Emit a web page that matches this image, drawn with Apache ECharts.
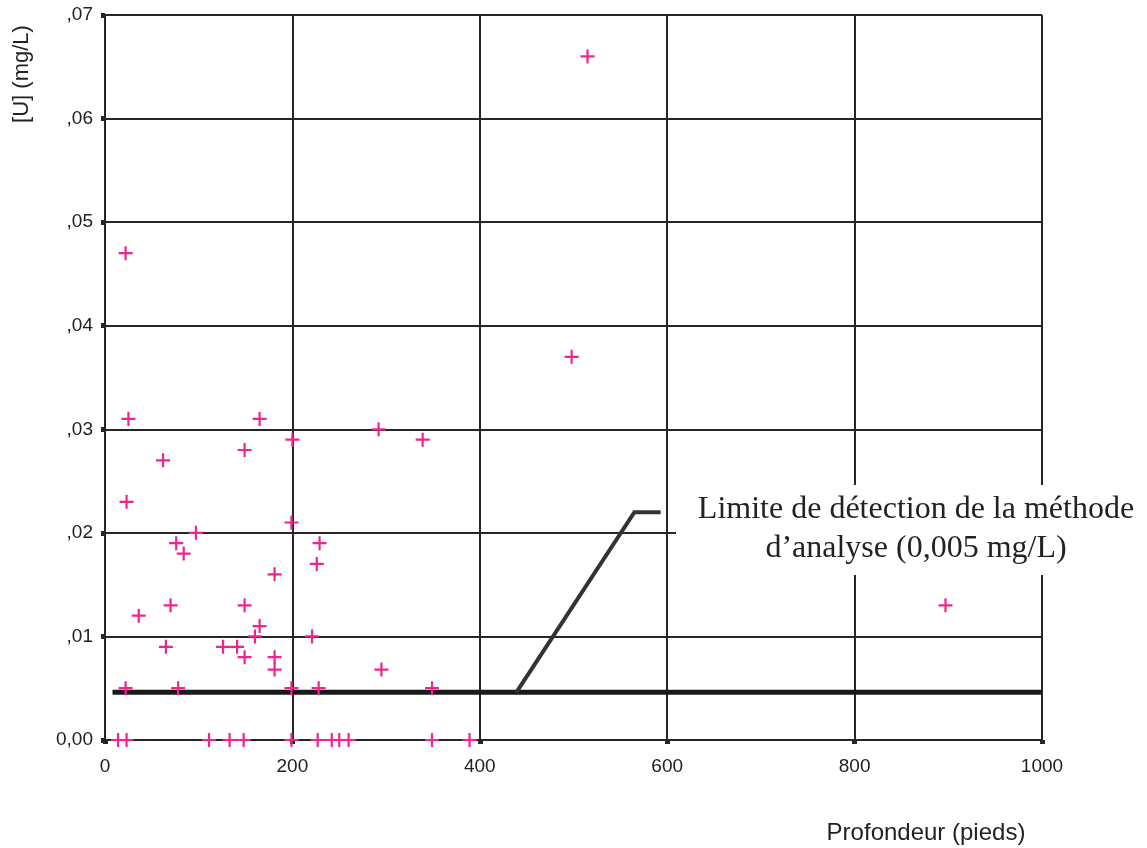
<!DOCTYPE html>
<html>
<head>
<meta charset="utf-8">
<script src="https://cdn.jsdelivr.net/npm/echarts@6/dist/echarts.min.js"></script>
<style>
html,body{margin:0;padding:0;background:#fff;}
#chart{width:1147px;height:848px;}
</style>
</head>
<body>
<div id="chart"></div>
<script>
// Depth (feet) and uranium concentration (mg/L)
const depth = [22, 25, 23, 62, 97, 76, 84, 36, 70, 65,
  149, 165, 149, 181, 165, 160, 126, 141, 149, 181, 181,
  200, 199, 229, 226, 221, 292, 339, 295, 498, 515, 897,
  22, 78, 199, 228, 349,
  14, 23, 111, 133, 148, 199, 227, 242, 250, 260, 349, 389];
const uranium = [0.047, 0.031, 0.023, 0.027, 0.020, 0.019, 0.018, 0.012, 0.013, 0.009,
  0.028, 0.031, 0.013, 0.016, 0.011, 0.010, 0.009, 0.009, 0.008, 0.008, 0.0068,
  0.029, 0.021, 0.019, 0.017, 0.010, 0.030, 0.029, 0.0068, 0.037, 0.066, 0.013,
  0.005, 0.005, 0.005, 0.005, 0.005,
  0, 0, 0, 0, 0, 0, 0, 0, 0, 0, 0, 0];

// Detection limit line and its pointer
const limitX = [8, 1000];
const limitY = [0.0046, 0.0046];
const pointerX = [439, 565, 593];
const pointerY = [0.0046, 0.022, 0.022];

const xTicks = ['0', '200', '400', '600', '800', '1000'];
const yTicks = ['0,00', ',01', ',02', ',03', ',04', ',05', ',06', ',07'];

const xTitle = 'Profondeur (pieds)';
const yTitle = '[U] (mg/L)';
const noteText = 'Limite de détection de la méthode\nd\u2019analyse (0,005 mg/L)';

const chart = echarts.init(document.getElementById('chart'), null, {renderer: 'canvas'});
const lineCol = '#262626';
const plus = 'path://M-1.1,-7H1.1V-1.1H7V1.1H1.1V7H-1.1V1.1H-7V-1.1H-1.1Z';

chart.setOption({
  animation: false,
  backgroundColor: '#fff',
  grid: {left: 105, right: 105, top: 15, bottom: 108},
  xAxis: {
    type: 'value', min: 0, max: 1000, interval: 200,
    axisLine: {show: true, lineStyle: {color: lineCol, width: 2}},
    axisTick: {show: true, length: 4, lineStyle: {color: lineCol, width: 5}},
    splitLine: {show: true, lineStyle: {color: lineCol, width: 2}},
    axisLabel: {
      margin: 17, color: '#222', fontSize: 19, fontFamily: 'Liberation Sans',
      formatter: v => xTicks[Math.round(v / 200)]
    }
  },
  yAxis: {
    type: 'value', min: 0, max: 0.07, interval: 0.01,
    axisLine: {show: true, lineStyle: {color: lineCol, width: 2}},
    axisTick: {show: true, length: 4, lineStyle: {color: lineCol, width: 5}},
    splitLine: {show: true, lineStyle: {color: lineCol, width: 2}},
    axisLabel: {
      margin: 12, color: '#222', fontSize: 19, fontFamily: 'Liberation Sans',
      formatter: v => yTicks[Math.round(v / 0.01)]
    }
  },
  series: [
    {
      type: 'line', data: limitX.map((x, i) => [x, limitY[i]]),
      symbol: 'none', lineStyle: {color: '#1a1a1a', width: 5}, z: 3
    },
    {
      type: 'line', data: pointerX.map((x, i) => [x, pointerY[i]]),
      symbol: 'none', lineStyle: {color: '#333', width: 4, join: 'miter'}, z: 3
    },
    {
      type: 'scatter', data: depth.map((d, i) => [d, uranium[i]]),
      symbol: plus, symbolSize: 14,
      itemStyle: {color: '#f0248c', opacity: 1}, z: 5
    }
  ],
  graphic: [
    {type: 'rect', z: 50, shape: {x: 676, y: 485, width: 471, height: 90}, style: {fill: '#fff'}},
    {type: 'text', z: 51, x: 916, y: 490,
      style: {text: noteText, font: '32px "Liberation Serif"', fill: '#222',
        textAlign: 'center', textVerticalAlign: 'top', lineHeight: 39}},
    {type: 'text', z: 51, x: 926, y: 833,
      style: {text: xTitle, font: '24px "Liberation Sans"', fill: '#222',
        textAlign: 'center', textVerticalAlign: 'middle'}},
    {type: 'text', z: 51, x: 22, y: 74, rotation: Math.PI / 2,
      style: {text: yTitle, font: '22px "Liberation Sans"', fill: '#222',
        textAlign: 'center', textVerticalAlign: 'middle'}}
  ]
});
</script>
</body>
</html>
